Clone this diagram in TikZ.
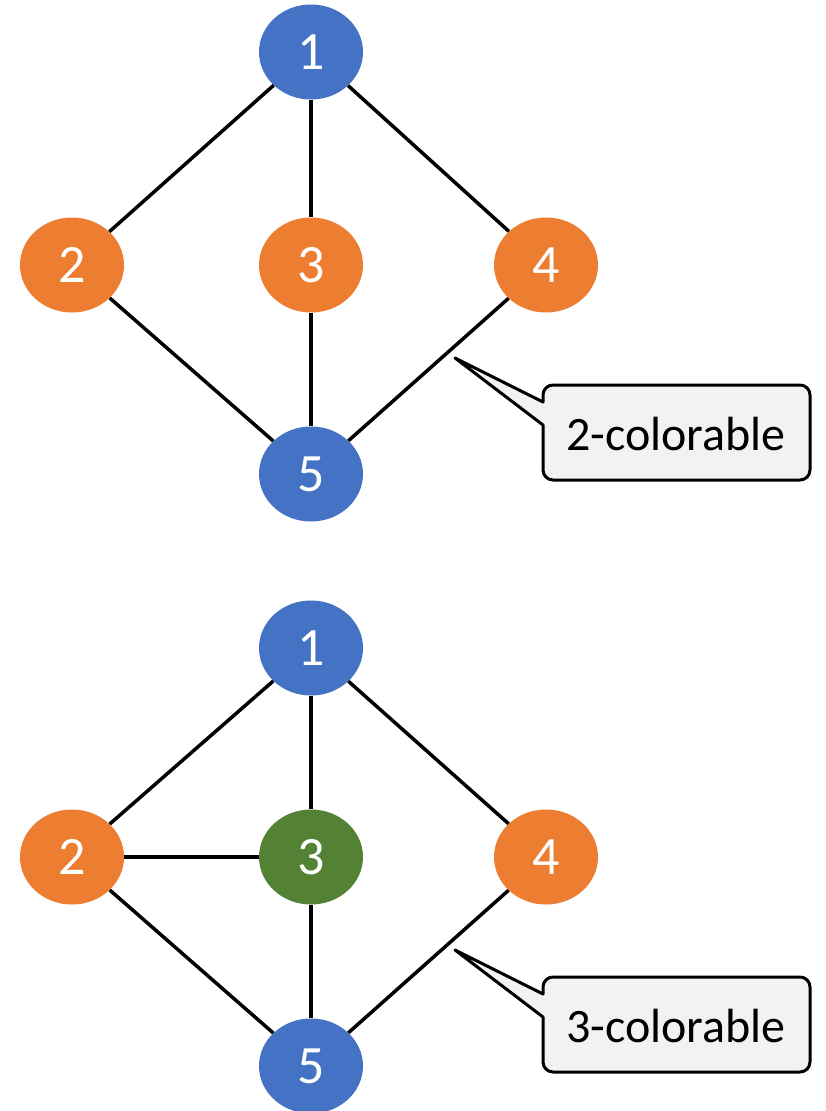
\documentclass[tikz,border=0pt]{standalone}
\usepackage{fontspec}
\setmainfont{Carlito}
\usetikzlibrary{shapes.geometric}
\definecolor{nodeblue}{HTML}{4472C4}
\definecolor{nodeorange}{HTML}{ED7D31}
\definecolor{nodegreen}{HTML}{548235}
\definecolor{calloutfill}{HTML}{F2F2F2}
\tikzset{
  vertex/.style={ellipse,minimum width=104pt,minimum height=95pt,inner sep=0pt,
    text=white,font=\fontsize{54}{60}\selectfont},
  blue/.style={vertex,fill=nodeblue},
  orange/.style={vertex,fill=nodeorange},
  green/.style={vertex,fill=nodegreen},
  edge/.style={line width=3.5pt,black},
  callout/.style={line width=3pt,fill=calloutfill,line join=round},
  callouttext/.style={font=\fontsize{48}{54}\selectfont}
}
\begin{document}
\begin{tikzpicture}[x=1pt,y=-1pt]
		\useasboundingbox (0,0) rectangle (825,1111);
		% upper graph
		\node[blue] (a1) at (311,52) {1};
		\node[orange] (a2) at (72,265) {2};
		\node[orange] (a3) at (311,265) {3};
		\node[orange] (a4) at (546,265) {4};
		\node[blue] (a5) at (311,474) {5};
		\draw[edge] (a1)--(a2);
		\draw[edge] (a1)--(a3);
		\draw[edge] (a1)--(a4);
		\draw[edge] (a2)--(a5);
		\draw[edge] (a3)--(a5);
		\draw[edge] (a4)--(a5);
		\draw[callout] (700,385) [rounded corners=10] -- (810,385) -- (810,480) -- (543,480)
			[sharp corners] -- (543,425) -- (455,358) -- (543,402)
			[rounded corners=10] -- (543,385) -- cycle;
		\node[callouttext] (c1) at (676,434) {2-colorable};
		% lower graph
		\node[blue] (b1) at (311,648) {1};
		\node[orange] (b2) at (72,857) {2};
		\node[green] (b3) at (311,857) {3};
		\node[orange] (b4) at (546,857) {4};
		\node[blue] (b5) at (311,1066) {5};
		\draw[edge] (b1)--(b2);
		\draw[edge] (b1)--(b3);
		\draw[edge] (b1)--(b4);
		\draw[edge] (b2)--(b3);
		\draw[edge] (b2)--(b5);
		\draw[edge] (b3)--(b5);
		\draw[edge] (b4)--(b5);
		\draw[callout] (700,977) [rounded corners=10] -- (810,977) -- (810,1072) -- (543,1072)
			[sharp corners] -- (543,1017) -- (455,950) -- (543,994)
			[rounded corners=10] -- (543,977) -- cycle;
		\node[callouttext] (c2) at (676,1026) {3-colorable};
\end{tikzpicture}
\end{document}
